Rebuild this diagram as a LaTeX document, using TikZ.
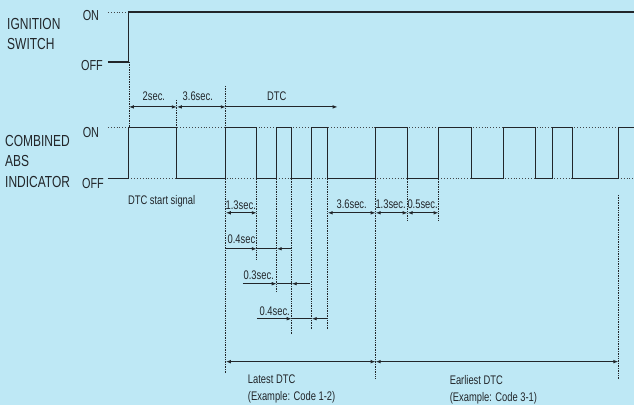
\documentclass[tikz,border=0pt]{standalone}
\usepackage{fontspec}
\setmainfont{Liberation Sans}[FakeStretch=0.75]
\usetikzlibrary{arrows.meta}
\definecolor{panel}{RGB}{190,232,245}
\definecolor{ink}{RGB}{34,38,42}

\begin{document}
\begin{tikzpicture}[x=1pt, y=-1pt, >={Latex[length=5pt, width=3.6pt]},
  wave/.style={draw=ink, line width=1.2pt},
  level/.style={draw=ink!85, dotted, line width=0.9pt},
  guide/.style={draw=ink, densely dotted, line width=0.7pt},
  dim/.style={draw=ink, line width=0.9pt},
  title/.style={font=\fontsize{16}{20.5}\selectfont, align=left, anchor=west, inner sep=0pt, text=ink},
  state/.style={font=\fontsize{14.5}{16}\selectfont, inner sep=0pt, text=ink},
  note/.style={font=\fontsize{12.5}{17}\selectfont, inner sep=0pt, text=ink}]
\fill[panel] (0,0) rectangle (635,405);
% time marks and rows
\foreach \n/\x in {0/129, 1/177, 2/226, 3/257, 4/277, 5/292, 6/312, 7/328, 8/376,
  9/408, 10/439, 11/472, 12/504, 13/536, 14/553, 15/573, 16/619}
  \coordinate (t\n) at (\x,0);
\coordinate (start) at (108,0);
\coordinate (end) at (635,0);
\coordinate (ignOn) at (0,12);
\coordinate (ignOff) at (0,62);
\coordinate (absOn) at (0,128);
\coordinate (absOff) at (0,179);
\foreach \n/\y in {0/107, 1/213, 2/249, 3/284, 4/319, 5/362}
  \coordinate (r\n) at (0,\y);

% ignition switch
\draw[level] (start|-ignOn) -- (t0|-ignOn);
\draw[wave] (start|-ignOff) -- (t0|-ignOff) -- (t0|-ignOn) -- (end|-ignOn);

% combined ABS indicator
\draw[level] (start|-absOn) -- (end|-absOn);
\draw[level] (start|-absOff) -- (end|-absOff);
\draw[wave] (start|-absOff) -- (t0|-absOff);
\foreach \a/\b/\c in {t0/t1/t2, t2/t3/t4, t4/t5/t6, t6/t7/t8, t8/t9/t10,
  t10/t11/t12, t12/t13/t14, t14/t15/t16}
  \draw[wave] (\a|-absOff) -- (\a|-absOn) -- (\b|-absOn) -- (\b|-absOff) -- (\c|-absOff);
\draw[wave] (t16|-absOff) -- (t16|-absOn) -- (end|-absOn);

% guides
\draw[guide] (t0|-ignOff) -- (t0|-absOn);
\draw[guide] (t1|-0,100) -- (t1|-absOn);
\draw[guide] (t2|-0,86) -- (t2|-absOn);
\draw[guide] (t2|-absOff) -- (t2|-0,373);
\foreach \t/\y in {t3/260, t4/292, t5/334, t6/330, t7/330, t8/378, t9/220, t10/220}
  \draw[guide] (\t|-absOff) -- (\t|-0,\y);
\draw[guide] (t16|-0,195) -- (t16|-0,380);

% timing
\coordinate (dtcEnd) at (338,107);
\draw[dim, <->] (t0|-r0) -- (t1|-r0);
\draw[dim, <->] (t1|-r0) -- (t2|-r0);
\draw[dim, ->] (t2|-r0) -- (dtcEnd);
\foreach \a/\b in {t2/t3, t7/t8, t8/t9, t9/t10}
  \draw[dim, <->] (\a|-r1) -- (\b|-r1);
\draw[dim, ->] (t2|-r2) -- (t3|-r2);
\draw[dim] (t3|-r2) -- (t4|-r2);
\draw[dim, ->] (t5|-r2) -- (t4|-r2);
\coordinate (gapA) at (243,284);
\coordinate (gapB) at (310,284);
\draw[dim, ->] (gapA) -- (t4|-r3);
\draw[dim] (t4|-r3) -- (t5|-r3);
\draw[dim, ->] (gapB) -- (t5|-r3);
\draw[dim, ->] (t3|-r4) -- (t5|-r4);
\draw[dim] (t5|-r4) -- (t6|-r4);
\draw[dim, ->] (t7|-r4) -- (t6|-r4);
\draw[dim, <->] (t2|-r5) -- (t8|-r5);
\draw[dim, <->] (t8|-r5) -- (t16|-r5);

% labels
\node[title] (ign) at (7,34) {IGNITION\\SWITCH};
\node[title] (abs) at (5,161.5) {COMBINED\\ABS\\INDICATOR};
\node[state] (ignOnLbl) at (91,16) {ON};
\node[state] (ignOffLbl) at (92,66) {OFF};
\node[state] (absOnLbl) at (91,133) {ON};
\node[state] (absOffLbl) at (93,184) {OFF};
\node[note] (twoSec) at (154,96) {2sec.};
\node[note] (waitSec) at (198,96) {3.6sec.};
\node[note] (dtc) at (277,96) {DTC};
\node[note, anchor=west] (startSig) at (128,201) {DTC start signal};
\node[note] (longA) at (241,205) {1.3sec.};
\node[note] (gapSec) at (352,204) {3.6sec.};
\node[note] (longB) at (391,204) {1.3sec.};
\node[note] (shortB) at (423,204) {0.5sec.};
\node[note] (offA) at (243,239) {0.4sec.};
\node[note] (onA) at (259,275) {0.3sec.};
\node[note] (offB) at (275,311) {0.4sec.};
\node[note, anchor=west, align=left] (latest) at (248,389) {Latest DTC\\(Example: Code 1-2)};
\node[note, anchor=west, align=left] (earliest) at (450,390) {Earliest DTC\\(Example: Code 3-1)};
\end{tikzpicture}
\end{document}
